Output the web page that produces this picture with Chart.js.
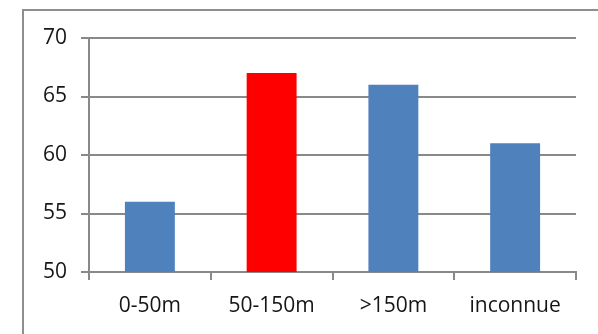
<!DOCTYPE html>
<html>
<head>
<meta charset="utf-8">
<script src="https://cdn.jsdelivr.net/npm/chart.js@4"></script>
<style>
  html, body { margin: 0; padding: 0; background: #fff; }
  #wrap { position: relative; width: 598px; height: 334px; overflow: hidden; }
  #frame {
    position: absolute; left: 22px; top: 9px; width: 700px; height: 400px;
    border-left: 2px solid #8e8e8e; border-top: 2px solid #8e8e8e;
  }
  canvas { position: absolute; left: 0; top: 0; }
</style>
</head>
<body>
<div id="wrap">
  <div id="frame"></div>
  <canvas id="myChart" width="598" height="334"></canvas>
</div>
<script>
// categories and values
const categories = ['0-50m', '50-150m', '>150m', 'inconnue'];
const values = [56, 67, 66, 61];
const highlighted = '50-150m';
const yTicks = [50, 55, 60, 65, 70];

const blue = '#4f81bd';
const red = '#ff0000';
const gridGray = '#898989';

const ctx = document.getElementById('myChart').getContext('2d');
new Chart(ctx, {
  type: 'bar',
  data: {
    labels: categories,
    datasets: [{
      data: values,
      backgroundColor: categories.map(c => c === highlighted ? red : blue),
      borderWidth: 0,
      categoryPercentage: 1,
      barPercentage: 0.41
    }]
  },
  options: {
    responsive: false,
    animation: false,
    layout: { padding: { left: 0, top: 38, right: 22, bottom: 0 } },
    plugins: { legend: { display: false }, tooltip: { enabled: false } },
    scales: {
      x: {
        offset: true,
        grid: {
          display: true,
          offset: true,
          drawOnChartArea: false,
          drawTicks: true,
          tickLength: 8,
          color: gridGray,
          lineWidth: 2
        },
        border: { display: true, color: gridGray, width: 2 },
        ticks: {
          color: '#161616',
          padding: 13,
          font: { family: 'Open Sans', size: 21 },
          maxRotation: 0
        },
        afterFit: s => { s.height = 62; }
      },
      y: {
        min: yTicks[0],
        max: yTicks[yTicks.length - 1],
        afterBuildTicks: s => { s.ticks = yTicks.map(v => ({ value: v })); },
        grid: {
          color: gridGray,
          lineWidth: 2,
          tickLength: 8,
          drawTicks: true
        },
        border: { display: true, color: gridGray, width: 2 },
        ticks: {
          color: '#161616',
          padding: 14,
          font: { family: 'Open Sans', size: 21 }
        },
        afterFit: s => { s.width = 89; }
      }
    }
  }
});
</script>
</body>
</html>
